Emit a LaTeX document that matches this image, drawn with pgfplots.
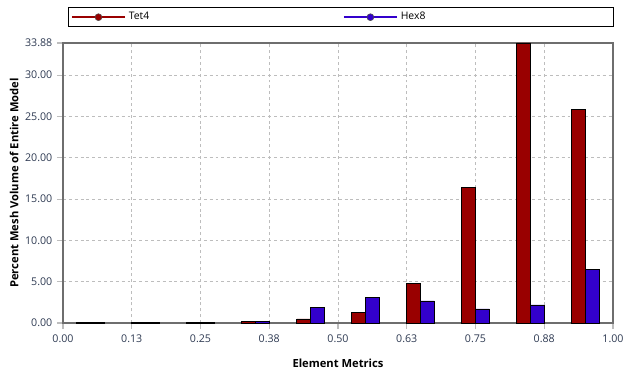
\documentclass[border=0pt]{standalone}
\usepackage{pgfplots}
\pgfplotsset{compat=1.18}
\usepackage{fontspec}
\setmainfont{Open Sans}
\definecolor{tetred}{HTML}{990000}
\definecolor{hexblue}{HTML}{3300CC}
\definecolor{ticklab}{HTML}{2E3A52}
\definecolor{framegray}{HTML}{6E6E6E}
\definecolor{gridgray}{HTML}{BDBDBD}
\begin{document}
\begin{tikzpicture}[x=1pt,y=1pt]
\begin{axis}[
  scale only axis,
  width=412.5pt, height=210pt,
  xmin=0, xmax=1, ymin=0, ymax=33.88,
  xtick={0,0.125,0.25,0.375,0.5,0.625,0.75,0.875,1},
  xticklabels={0.00,0.13,0.25,0.38,0.50,0.63,0.75,0.88,1.00},
  ytick={0,5,10,15,20,25,30,33.88},
  yticklabels={0.00,5.00,10.00,15.00,20.00,25.00,30.00,33.88},
  tick align=outside, major tick length=4.5pt,
  tick style={gridgray, line width=0.8pt},
  xtick pos=bottom, ytick pos=left,
  grid=major,
  major grid style={gridgray, dashed, line width=0.6pt, dash pattern=on 2.2pt off 2.2pt},
  axis line style={framegray, line width=1pt},
  ticklabel style={font=\fontsize{8}{9}\selectfont, text=ticklab},
  xticklabel style={yshift=-1pt},
  xlabel={\textbf{Element Metrics}},
  ylabel={\textbf{Percent Mesh Volume of Entire Model}},
  label style={font=\fontsize{8.4}{10}\selectfont},
  xlabel style={yshift=-5pt},
  ylabel style={yshift=-2pt},
  ybar, bar width=0.025, bar shift=0pt,
  legend columns=2,
  legend style={at={(0.0085,1.057)}, anchor=south west, draw=black, line width=0.6pt,
    font=\fontsize{7.8}{9}\selectfont, inner ysep=1.5pt, inner xsep=2pt,
    /tikz/every odd column/.style={column sep=0pt},
    /tikz/every even column/.style={column sep=143pt}},
  legend image code/.code={
    \draw[#1, line width=1.6pt] (0pt,0pt) -- (40pt,0pt);
    \fill[#1, draw=black!70, line width=0.4pt] (20pt,0pt) circle (2.6pt);
  },
]
\addplot[fill=tetred, draw=black, line width=0.6pt, forget plot] coordinates {
  (0.0375,0.08) (0.1375,0.08) (0.2375,0.08) (0.3375,0.22) (0.4375,0.49)
  (0.5375,1.30) (0.6375,4.82) (0.7375,16.35) (0.8375,33.88) (0.9375,25.80)};
\addplot[fill=hexblue, draw=black, line width=0.6pt, forget plot] coordinates {
  (0.0625,0.08) (0.1625,0.08) (0.2625,0.08) (0.3625,0.22) (0.4625,1.86)
  (0.5625,3.04) (0.6625,2.67) (0.7625,1.70) (0.8625,2.19) (0.9625,6.44)};
\addlegendimage{tetred, fill=tetred}
\addlegendentry{Tet4}
\addlegendimage{hexblue, fill=hexblue}
\addlegendentry{Hex8\hspace*{137pt}}
\end{axis}
\pgfresetboundingbox
\path[use as bounding box] (-47.25pt,-36.75pt) rectangle (420pt,242.25pt);
\end{tikzpicture}
\end{document}
